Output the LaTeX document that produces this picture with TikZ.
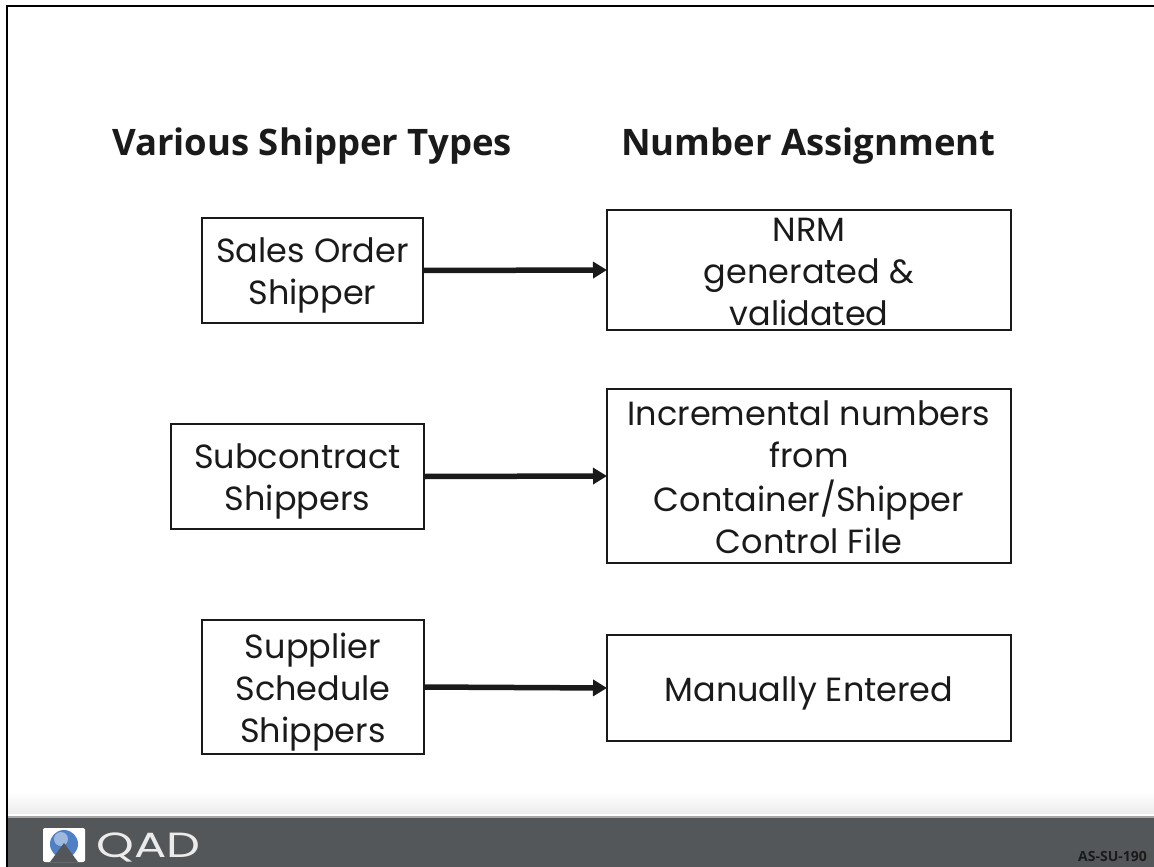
\documentclass[tikz,border=0pt]{standalone}
\usepackage{fontspec}
\setmainfont{Poppins}
\newfontfamily\headfont{Open Sans}
\newfontfamily\tagfont{Open Sans}
\usetikzlibrary{arrows.meta}
\definecolor{barcol}{HTML}{53575A}
\definecolor{inkcol}{HTML}{1A1A1A}
\definecolor{skycol}{HTML}{4F7FC4}
\newcommand{\shiplabel}[1]{\raisebox{-11pt}[0pt][0pt]{\begin{tabular}{@{}c@{}}#1\end{tabular}}}
\tikzset{
	shipbox/.style={minimum height=#1,outer sep=0pt,inner sep=0pt,draw=inkcol,line width=2.8pt,fill=white,text=inkcol,font=\fontsize{33.5}{42}\selectfont},
	headtext/.style={text=inkcol,font=\headfont\bfseries\fontsize{36.5}{40}\selectfont},
	flow/.style={-{Triangle[length=14pt,width=16pt]},line width=5.5pt,inkcol}
}

\begin{document}
\begin{tikzpicture}[x=1pt,y=-1pt]
	\useasboundingbox (0,0) rectangle (1154,867);
	\shade [top color=white,bottom color=black!7] (8,792) rectangle (1154,813);
	\fill [barcol] (8,817) rectangle (1154,867);
	\fill [black!35] (8,815.5) rectangle (1154,817.5);
	\draw [line width=2.4pt] (7,867) -- (7,6) -- (1154,6);

	\node [headtext] at (312,146) (TypesHead) {Various Shipper Types};
	\node [headtext] at (808.5,146) (AssignHead) {Number Assignment};

	\node [shipbox=105pt,minimum width=221pt] at (312.5,270.5) (Sales) {\shiplabel{Sales Order\\Shipper}};
	\node [shipbox=120pt,minimum width=404pt] at (809,270) (Nrm) {\shiplabel{NRM\\generated \&\\validated}};
	\node [shipbox=105pt,minimum width=253pt] at (297.5,476.5) (Subcontract) {\shiplabel{Subcontract\\Shippers}};
	\node [shipbox=174pt,minimum width=404pt] at (809,476) (Incremental) {\shiplabel{Incremental numbers\\from\\Container/Shipper\\Control File}};
	\node [shipbox=134pt,minimum width=222pt] at (313,687) (Supplier) {\shiplabel{Supplier\\Schedule\\Shippers}};
	\node [shipbox=106pt,minimum width=404pt] at (809,688) (Manual) {\shiplabel{Manually Entered}};

	\draw [flow] (Sales.east) -- (Nrm.west);
	\draw [flow] (Subcontract.east) -- (Incremental.west);
	\draw [flow] (Supplier.east) -- (Manual.west);

	\fill [white,rounded corners=2pt] (43,828) rectangle (85,862);
	\fill [skycol] (64,844) circle (14);
	\fill [white,opacity=.45] (61,839) circle (7);
	\fill [barcol] (50,862) -- (64,843) -- (78,862) -- cycle;
	\node [text=black!8,font=\fontsize{35}{35}\selectfont,anchor=west,inner sep=0pt,xscale=1.37] at (96,847) (Brand) {QAD};
	\node [text=inkcol,font=\tagfont\bfseries\fontsize{14}{14}\selectfont,anchor=east,inner sep=0pt] at (1147,856.5) (SlideTag) {AS-SU-190};
\end{tikzpicture}
\end{document}
